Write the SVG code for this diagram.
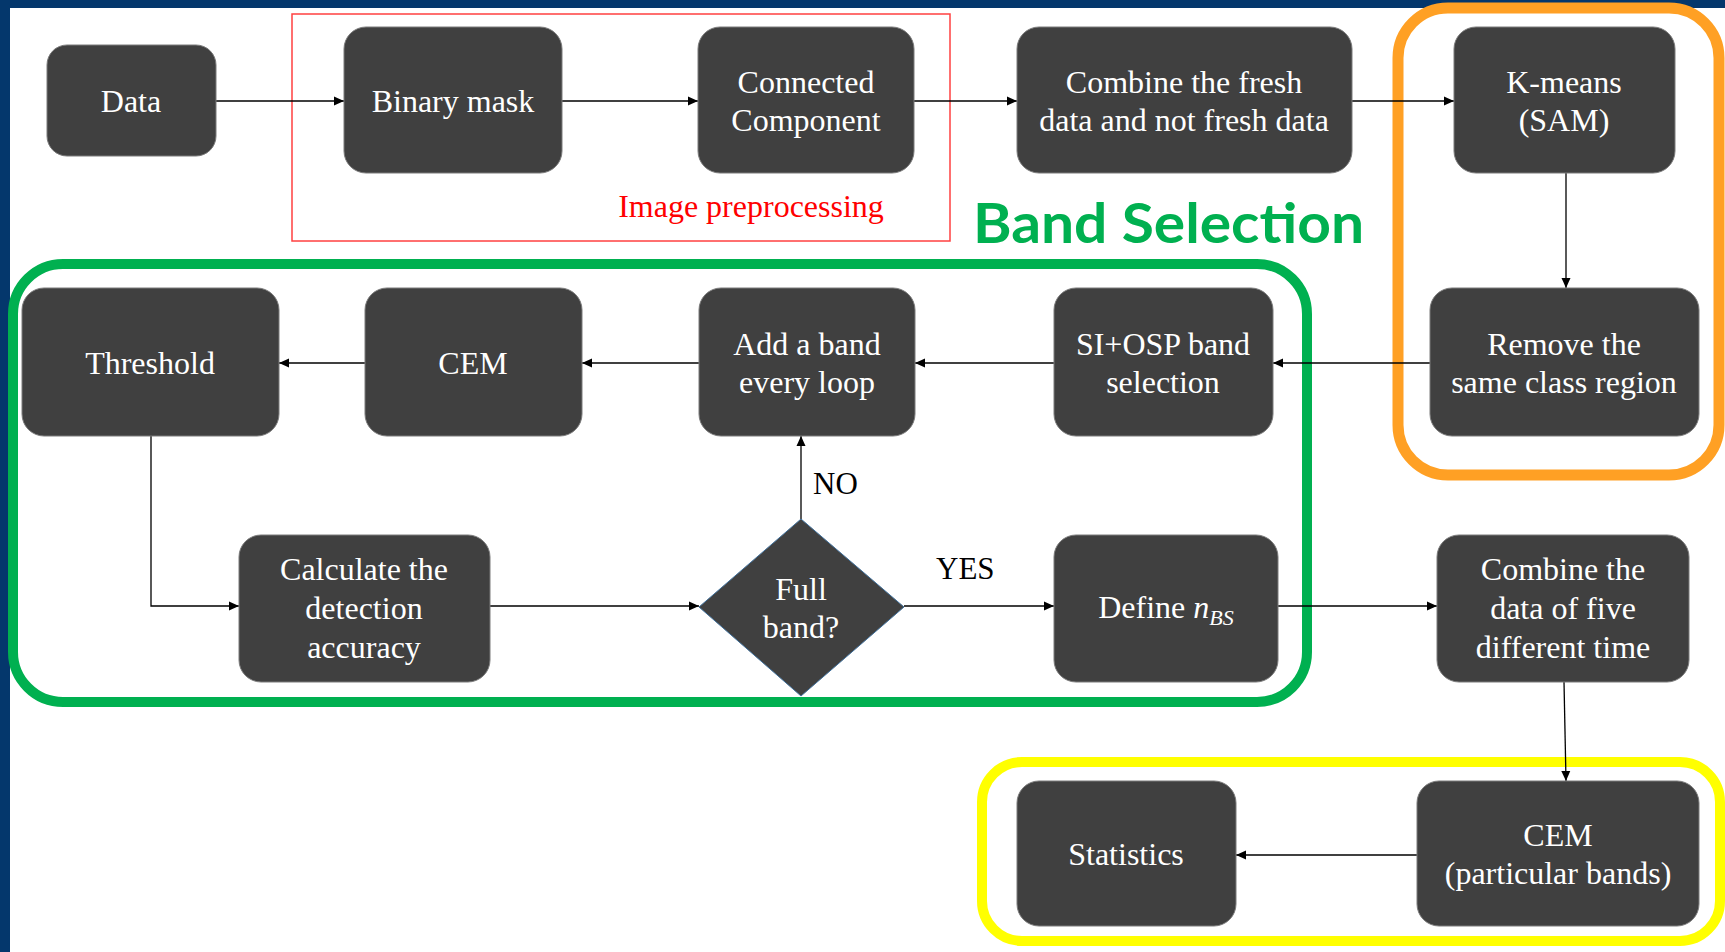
<svg xmlns="http://www.w3.org/2000/svg" width="1725" height="952" viewBox="0 0 1725 952">
<style>
.box{fill:#404040;stroke:#7a7a7a;stroke-width:1}
.t{font-family:"Liberation Serif","Times New Roman",serif;font-size:32px;fill:#ffffff;text-anchor:middle}
.lbl{font-family:"Liberation Serif","Times New Roman",serif;font-size:31px;fill:#000000}
.c{fill:none;stroke:#000000;stroke-width:1.3}
</style>
<defs>
<marker id="arr" viewBox="0 0 10 10" refX="10" refY="5" markerWidth="10" markerHeight="10" markerUnits="userSpaceOnUse" orient="auto">
<path d="M0,0.5 L10,5 L0,9.5 Z" fill="#000000"/>
</marker>
</defs>
<rect x="0" y="0" width="1725" height="952" fill="#ffffff"/>
<rect x="0" y="0" width="1725" height="8" fill="#04376c"/>
<rect x="0" y="0" width="10" height="952" fill="#04376c"/>

<g id="groups">
<rect x="292" y="14" width="658" height="227" fill="none" stroke="#ff4040" stroke-width="1.5"/>
<text x="751" y="217" font-family="'Liberation Serif','Times New Roman',serif" font-size="32" fill="#ff0000" text-anchor="middle">Image preprocessing</text>
<rect x="13" y="264" width="1294" height="438" rx="50" fill="none" stroke="#00b050" stroke-width="10"/>
<text x="973" y="243" font-family="Lato,'Open Sans',sans-serif" font-weight="700" font-size="56" fill="#00b050" textLength="391" lengthAdjust="spacingAndGlyphs">Band Selection</text>
<rect x="1398" y="8" width="321" height="467" rx="50" fill="none" stroke="#ffa024" stroke-width="11"/>
<rect x="982" y="762" width="738" height="179" rx="40" fill="none" stroke="#ffff00" stroke-width="10"/>
</g>

<g id="connectors">
<line class="c" x1="216" y1="101" x2="344" y2="101" marker-end="url(#arr)"/>
<line class="c" x1="562" y1="101" x2="698" y2="101" marker-end="url(#arr)"/>
<line class="c" x1="914" y1="101" x2="1017" y2="101" marker-end="url(#arr)"/>
<line class="c" x1="1352" y1="101" x2="1454" y2="101" marker-end="url(#arr)"/>
<line class="c" x1="1566" y1="173" x2="1566" y2="288" marker-end="url(#arr)"/>
<line class="c" x1="1430" y1="363" x2="1273" y2="363" marker-end="url(#arr)"/>
<line class="c" x1="1054" y1="363" x2="915" y2="363" marker-end="url(#arr)"/>
<line class="c" x1="699" y1="363" x2="582" y2="363" marker-end="url(#arr)"/>
<line class="c" x1="365" y1="363" x2="279" y2="363" marker-end="url(#arr)"/>
<polyline class="c" points="151,436 151,606 239,606" marker-end="url(#arr)"/>
<line class="c" x1="490" y1="606" x2="699" y2="606" marker-end="url(#arr)"/>
<line class="c" x1="801" y1="519" x2="801" y2="436" marker-end="url(#arr)"/>
<line class="c" x1="904" y1="606" x2="1054" y2="606" marker-end="url(#arr)"/>
<line class="c" x1="1278" y1="606" x2="1437" y2="606" marker-end="url(#arr)"/>
<line class="c" x1="1564" y1="682" x2="1566" y2="781" marker-end="url(#arr)"/>
<line class="c" x1="1417" y1="855" x2="1236" y2="855" marker-end="url(#arr)"/>
<text class="lbl" x="813" y="494">NO</text>
<text class="lbl" x="936" y="579">YES</text>
</g>

<g id="n-data"><rect class="box" x="47" y="45" width="169" height="111" rx="20"/><text class="t" x="131" y="112">Data</text></g>
<g id="n-binary"><rect class="box" x="344" y="27" width="218" height="146" rx="22"/><text class="t" x="453" y="112">Binary mask</text></g>
<g id="n-connected"><rect class="box" x="698" y="27" width="216" height="146" rx="22"/><text class="t" x="806" y="93">Connected</text><text class="t" x="806" y="131">Component</text></g>
<g id="n-combine"><rect class="box" x="1017" y="27" width="335" height="146" rx="22"/><text class="t" x="1184" y="93">Combine the fresh</text><text class="t" x="1184" y="131">data and not fresh data</text></g>
<g id="n-kmeans"><rect class="box" x="1454" y="27" width="221" height="146" rx="22"/><text class="t" x="1564" y="93">K-means</text><text class="t" x="1564" y="131">(SAM)</text></g>
<g id="n-remove"><rect class="box" x="1430" y="288" width="269" height="148" rx="22"/><text class="t" x="1564" y="355">Remove the</text><text class="t" x="1564" y="393">same class region</text></g>
<g id="n-si"><rect class="box" x="1054" y="288" width="219" height="148" rx="22"/><text class="t" x="1163" y="355">SI+OSP band</text><text class="t" x="1163" y="393">selection</text></g>
<g id="n-add"><rect class="box" x="699" y="288" width="216" height="148" rx="22"/><text class="t" x="807" y="355">Add a band</text><text class="t" x="807" y="393">every loop</text></g>
<g id="n-cem"><rect class="box" x="365" y="288" width="217" height="148" rx="22"/><text class="t" x="473" y="374">CEM</text></g>
<g id="n-threshold"><rect class="box" x="22" y="288" width="257" height="148" rx="22"/><text class="t" x="150" y="374">Threshold</text></g>
<g id="n-calc"><rect class="box" x="239" y="535" width="251" height="147" rx="22"/><text class="t" x="364" y="580">Calculate the</text><text class="t" x="364" y="619">detection</text><text class="t" x="364" y="658">accuracy</text></g>
<g id="n-full"><polygon points="801,519 904,607 801,696 699,607" fill="#404040" stroke="#41719c" stroke-width="1"/><text class="t" x="801" y="600">Full</text><text class="t" x="801" y="638">band?</text></g>
<g id="n-define"><rect class="box" x="1054" y="535" width="224" height="147" rx="22"/><text class="t" x="1166" y="618">Define <tspan font-style="italic">n</tspan><tspan font-style="italic" font-size="22" dy="7">BS</tspan></text></g>
<g id="n-combine5"><rect class="box" x="1437" y="535" width="252" height="147" rx="22"/><text class="t" x="1563" y="580">Combine the</text><text class="t" x="1563" y="619">data of five</text><text class="t" x="1563" y="658">different time</text></g>
<g id="n-stats"><rect class="box" x="1017" y="781" width="219" height="145" rx="22"/><text class="t" x="1126" y="865">Statistics</text></g>
<g id="n-cemp"><rect class="box" x="1417" y="781" width="282" height="145" rx="22"/><text class="t" x="1558" y="846">CEM</text><text class="t" x="1558" y="884">(particular bands)</text></g>
</svg>
